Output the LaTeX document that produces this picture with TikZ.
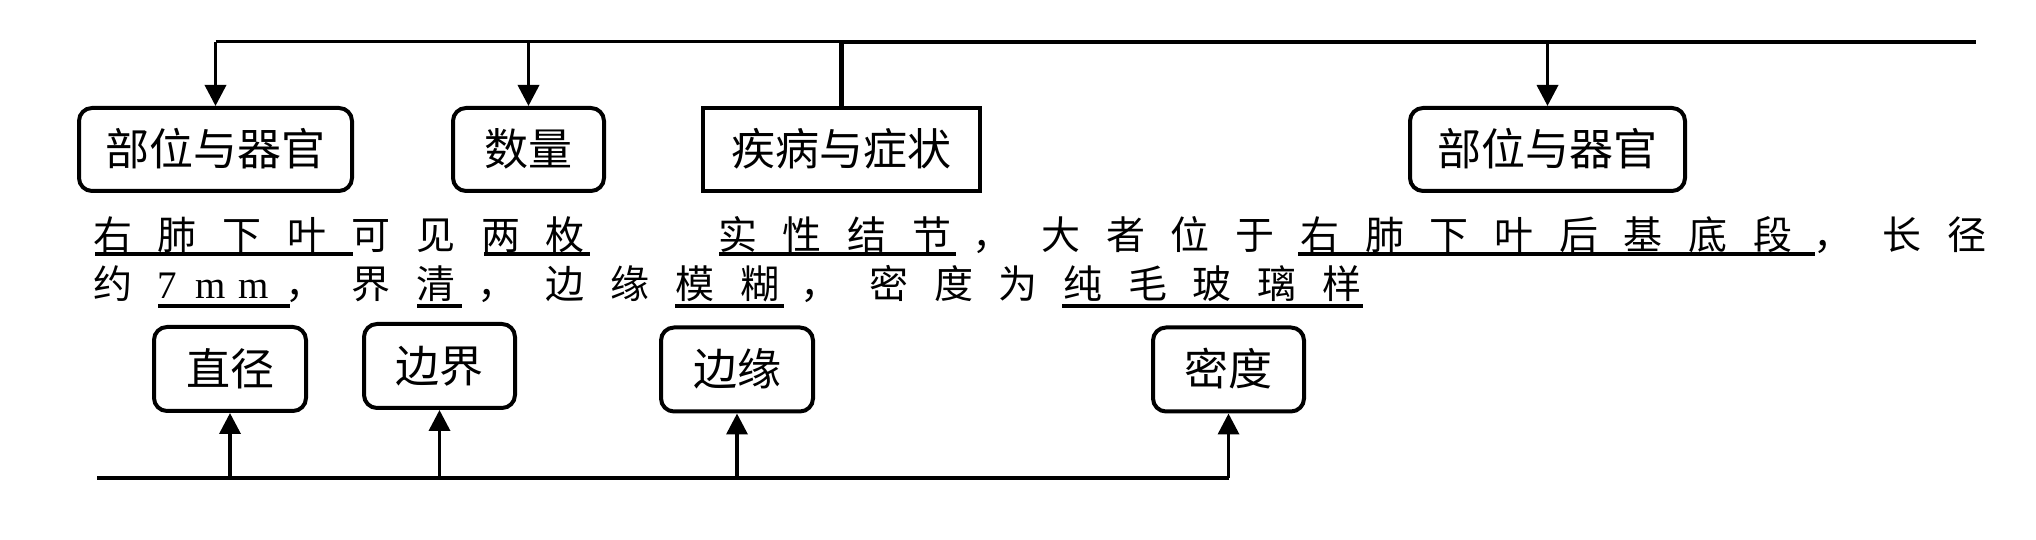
\documentclass[tikz,border=0pt]{standalone}
\usepackage{fontspec}
\newfontfamily\cjk{Noto Sans CJK SC}
\newfontfamily\lat{Liberation Serif}
\usetikzlibrary{arrows.meta}
\tikzset{
  ch/.style={inner sep=0pt, font=\cjk\fontsize{39}{39}\selectfont, text height=32pt, text depth=3pt},
  la/.style={inner sep=0pt, font=\lat\fontsize{39}{39}\selectfont, text height=32pt, text depth=3pt},
  rbox/.style={draw, line width=4pt, rounded corners=13pt, inner sep=0pt,
    font=\cjk\fontsize{44}{44}\selectfont, text height=36pt, text depth=3pt},
  sbox/.style={rbox, rounded corners=0pt},
  arr/.style={line width=3.6pt, -{Triangle[length=21pt,width=21pt]}},
  thinln/.style={line width=3pt},
  thickln/.style={line width=4.4pt},
  uline/.style={line width=3.3pt}
}
\begin{document}
\begin{tikzpicture}[x=1pt,y=1pt]
\useasboundingbox (0,0) rectangle (2036,540);
% top boxes
\node[rbox, minimum width=273pt, minimum height=83pt] (b1) at (215.5,390.5) {部位与器官};
\node[rbox, minimum width=151pt, minimum height=83pt] (b2) at (528.5,390.5) {数量};
\node[sbox, minimum width=277pt, minimum height=83pt] (b3) at (841.5,390.5) {疾病与症状};
\node[rbox, minimum width=275pt, minimum height=83pt] (b4) at (1547.5,390.5) {部位与器官};
\coordinate (top) at (841.5,498);
\coordinate (tr) at (1976,498);
\draw[thinln] (b1.north |- top) -- (top);
\draw[thickln] (top) -- (tr);
\draw[thickln] (top) -- (b3.north);
\draw[arr] (b1.north |- top) -- (b1.north);
\draw[arr] (b2.north |- top) -- (b2.north);
\draw[arr] (b4.north |- top) -- (b4.north);
% text line 1
\foreach \c [count=\i from 0] in {右,肺,下,叶,可,见,两,枚}
  \node[ch] (pa\i) at ({112.5+64.7*\i},305) {\c};
\foreach \i/\c in {0/实,1/性,2/结,3/节,5/大,6/者,7/位,8/于,9/右,10/肺,11/下,12/叶,13/后,14/基,15/底,16/段,18/长,19/径}
  \node[ch] (pb\i) at ({737.5+64.7*\i},305) {\c};
\foreach \i in {4,17}
  \node[ch] (pb\i) at ({737.5+64.7*\i-4},305) {，};
\draw[uline] (95,286) -- (353,286);
\draw[uline] (484,286) -- (590,286);
\draw[uline] (719,286) -- (956,286);
\draw[uline] (1298,286) -- (1815,286);
% text line 2
\foreach \i/\c in {0/约,4/界,5/清,7/边,8/缘,9/模,10/糊,12/密,13/度,14/为,15/纯,16/毛,17/玻,18/璃,19/样}
  \node[ch] (pc\i) at ({112.5+64.7*\i},256) {\c};
\foreach \i in {6,11}
  \node[ch] (pc\i) at ({112.5+64.7*\i-4},256) {，};
\node[ch] (pcx) at (305,256) {，};
\node[la] (n7) at (167,256) {7};
\node[la] (m1) at (211,256) {m};
\node[la] (m2) at (254,256) {m};
\draw[uline] (158,234) -- (290,234);
\draw[uline] (417,234) -- (462,234);
\draw[uline] (675,234) -- (784,234);
\draw[uline] (1062,234) -- (1363,234);
% bottom boxes
\node[rbox, minimum width=152pt, minimum height=84pt] (d1) at (230,171) {直径};
\node[rbox, minimum width=151pt, minimum height=84pt] (d2) at (439.5,174) {边界};
\node[rbox, minimum width=152pt, minimum height=84pt] (d3) at (737,170.5) {边缘};
\node[rbox, minimum width=151pt, minimum height=84pt] (d4) at (1228.5,170.5) {密度};
\coordinate (bl) at (97,62);
\draw[thickln] (bl) -- (d4.south |- bl);
\draw[arr] (d1.south |- bl) -- (d1.south);
\draw[arr] (d2.south |- bl) -- (d2.south);
\draw[arr] (d3.south |- bl) -- (d3.south);
\draw[arr] (d4.south |- bl) -- (d4.south);
\end{tikzpicture}
\end{document}
